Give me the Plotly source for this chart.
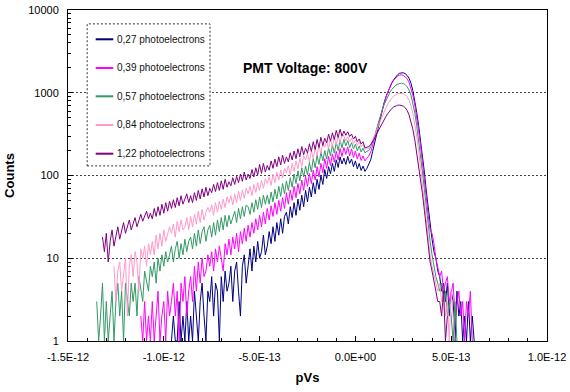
import plotly.graph_objects as go

# bin centres in units of 1E-12 pVs
BINS_E12 = [
    -1.36, -1.35, -1.34, -1.33, -1.32, -1.31, -1.30, -1.29, -1.28, -1.27,
    -1.26, -1.25, -1.24, -1.23, -1.22, -1.21, -1.20, -1.19, -1.18, -1.17,
    -1.16, -1.15, -1.14, -1.13, -1.12, -1.11, -1.10, -1.09, -1.08, -1.07,
    -1.06, -1.05, -1.04, -1.03, -1.02, -1.01, -1.00, -0.99, -0.98, -0.97,
    -0.96, -0.95, -0.94, -0.93, -0.92, -0.91, -0.90, -0.89, -0.88, -0.87,
    -0.86, -0.85, -0.84, -0.83, -0.82, -0.81, -0.80, -0.79, -0.78, -0.77,
    -0.76, -0.75, -0.74, -0.73, -0.72, -0.71, -0.70, -0.69, -0.68, -0.67,
    -0.66, -0.65, -0.64, -0.63, -0.62, -0.61, -0.60, -0.59, -0.58, -0.57,
    -0.56, -0.55, -0.54, -0.53, -0.52, -0.51, -0.50, -0.49, -0.48, -0.47,
    -0.46, -0.45, -0.44, -0.43, -0.42, -0.41, -0.40, -0.39, -0.38, -0.37,
    -0.36, -0.35, -0.34, -0.33, -0.32, -0.31, -0.30, -0.29, -0.28, -0.27,
    -0.26, -0.25, -0.24, -0.23, -0.22, -0.21, -0.20, -0.19, -0.18, -0.17,
    -0.16, -0.15, -0.14, -0.13, -0.12, -0.11, -0.10, -0.09, -0.08, -0.07,
    -0.06, -0.05, -0.04, -0.03, -0.02, -0.01, 0.00, 0.01, 0.02, 0.03,
    0.04, 0.05, 0.06, 0.07, 0.08, 0.09, 0.10, 0.11, 0.12, 0.13,
    0.14, 0.15, 0.16, 0.17, 0.18, 0.19, 0.20, 0.21, 0.22, 0.23,
    0.24, 0.25, 0.26, 0.27, 0.28, 0.29, 0.30, 0.31, 0.32, 0.33,
    0.34, 0.35, 0.36, 0.37, 0.38, 0.39, 0.40, 0.41, 0.42, 0.43,
    0.44, 0.45, 0.46, 0.47, 0.48, 0.49, 0.50, 0.51, 0.52, 0.53,
    0.54, 0.55, 0.56, 0.57, 0.58, 0.59, 0.60, 0.61, 0.62,
]

N = None

PE_027 = [
    N, N, N, N, N, N, N, N, N, N,
    N, N, N, N, N, N, N, N, N, N,
    N, N, N, N, N, N, N, N, N, N,
    N, N, N, N, N, N, N, N, N, N,
    1, 2, 1, 1, 3, 1, 2, 1, 3, 1,
    2, 1, 4, 2, 1, 3, 5, 2, 1, 4,
    3, 6, 2, 5, 4, 1, 6, 3, 7, 4,
    5, 8, 3, 7, 9, 4, 2, 8, 11, 5,
    8, 13, 7, 14, 9, 16, 10, 12, 19, 11,
    14, 21, 15, 24, 16, 27, 19, 30, 20, 32,
    36, 26, 42, 31, 47, 33, 52, 38, 58, 42,
    66, 48, 72, 55, 82, 60, 90, 68, 100, 78,
    118, 92, 128, 105, 140, 112, 155, 125, 168, 138,
    162, 136, 170, 140, 158, 128, 150, 120, 140, 115,
    130, 112, 122, 135, 155, 195, 245, 310, 400, 510,
    630, 760, 900, 1040, 1180, 1320, 1440, 1560, 1650, 1720,
    1750, 1745, 1700, 1620, 1500, 1300, 1060, 800, 580, 400,
    270, 180, 110, 65, 40, 25, 17, 12, 10, 7,
    6, 4, 5, 3, 5, 2, 4, 3, 1, 4,
    2, 3, 1, 2, 1, 3, 1, 2, 1,
]

PE_039 = [
    N, N, N, N, N, N, N, N, N, N,
    N, N, N, N, N, N, N, N, N, N,
    N, N, N, N, 2, 1, 3, 1, 2, 1,
    3, 1, 2, 4, 1, 2, 3, 1, 4, 2,
    3, 5, 2, 4, 1, 5, 3, 6, 2, 4,
    6, 3, 8, 4, 9, 5, 10, 6, 7, 11,
    8, 12, 7, 13, 9, 14, 10, 7, 15, 11,
    17, 11, 18, 13, 20, 12, 21, 15, 23, 16,
    25, 18, 27, 20, 30, 22, 33, 24, 36, 26,
    40, 29, 43, 32, 47, 34, 50, 37, 54, 40,
    62, 45, 67, 50, 74, 54, 80, 60, 88, 66,
    98, 74, 106, 80, 116, 88, 128, 96, 140, 108,
    160, 122, 170, 132, 182, 145, 196, 155, 212, 170,
    218, 180, 222, 172, 210, 165, 198, 158, 186, 152,
    172, 150, 162, 172, 192, 228, 278, 340, 420, 515,
    625, 755, 890, 1030, 1170, 1300, 1420, 1520, 1590, 1630,
    1645, 1625, 1570, 1480, 1340, 1150, 930, 710, 510, 350,
    230, 150, 90, 55, 33, 22, 20, 15, 10, 8,
    6, 7, 4, 5, 6, 3, 4, 5, 2, 3,
    4, 2, 3, 1, 3, 2, 4, 1, N,
]

PE_057 = [
    N, 3, 1, 2, 5, 1, 3, 1, 2, 4,
    1, 3, 5, 2, 4, 1, 5, 3, 2, 5,
    3, 5, 2, 6, 4, 3, 7, 5, 4, 8,
    6, 9, 5, 10, 7, 11, 8, 12, 9, 11,
    14, 9, 13, 16, 10, 15, 11, 17, 12, 16,
    18, 13, 20, 14, 22, 15, 21, 24, 16, 22,
    25, 18, 27, 19, 29, 21, 31, 22, 33, 24,
    33, 26, 31, 37, 27, 40, 30, 42, 32, 44,
    42, 34, 47, 36, 51, 39, 55, 41, 58, 45,
    58, 45, 63, 48, 68, 52, 74, 56, 80, 60,
    86, 66, 94, 72, 104, 80, 114, 86, 124, 96,
    130, 102, 144, 110, 160, 124, 176, 136, 192, 150,
    200, 158, 216, 172, 236, 186, 252, 200, 270, 216,
    274, 228, 264, 218, 250, 210, 240, 198, 228, 192,
    214, 188, 196, 200, 222, 252, 300, 362, 440, 530,
    620, 720, 820, 920, 1010, 1100, 1170, 1230, 1270, 1295,
    1305, 1290, 1250, 1180, 1080, 940, 760, 570, 400, 270,
    175, 110, 68, 40, 25, 16, 11, 8, 6, 5,
    4, 5, 3, 4, 2, 3, 2, 1, 3, 1,
    N, N, N, N, N, N, N, N, N,
]

PE_084 = [
    N, N, N, N, N, N, N, N, N, N,
    8, 3, 7, 9, 4, 6, 10, 2, 8, 11,
    6, 12, 9, 4, 13, 10, 14, 8, 15, 11,
    16, 11, 19, 13, 20, 14, 22, 16, 19, 24,
    20, 26, 18, 28, 21, 29, 22, 24, 31, 22,
    32, 24, 34, 26, 37, 27, 39, 29, 36, 41,
    36, 44, 33, 47, 36, 49, 39, 52, 41, 55,
    47, 57, 44, 60, 47, 64, 50, 67, 53, 70,
    60, 74, 57, 78, 62, 82, 66, 87, 70, 92,
    80, 97, 76, 104, 82, 110, 88, 116, 93, 122,
    108, 132, 102, 140, 112, 150, 120, 162, 128, 174,
    154, 188, 146, 200, 160, 216, 172, 230, 184, 246,
    220, 262, 210, 276, 224, 292, 236, 304, 248, 318,
    300, 262, 296, 256, 282, 244, 270, 232, 256, 222,
    238, 206, 212, 214, 236, 265, 300, 345, 400, 460,
    525, 595, 665, 735, 800, 860, 910, 945, 970, 983,
    985, 975, 945, 890, 810, 700, 560, 420, 300, 200,
    125, 78, 48, 28, 17, 11, 8, 6, 5, 4,
    5, 3, 4, 2, 3, 1, 4, 2, 1, N,
    N, N, N, N, N, N, N, N, N,
]

PE_122 = [
    N, N, N, N, 18, 12, 20, 9, 16, 22,
    14, 19, 24, 17, 21, 27, 20, 25, 29, 22,
    27, 31, 24, 29, 34, 28, 32, 37, 30, 35,
    30, 40, 32, 42, 33, 45, 35, 47, 37, 49,
    40, 51, 41, 54, 43, 57, 45, 52, 60, 47,
    57, 47, 62, 50, 66, 52, 69, 55, 72, 57,
    70, 62, 78, 64, 82, 66, 86, 68, 90, 72,
    84, 75, 94, 78, 98, 82, 104, 85, 110, 88,
    104, 92, 118, 96, 124, 102, 136, 106, 140, 110,
    132, 116, 150, 122, 158, 128, 168, 134, 176, 140,
    168, 146, 188, 154, 198, 160, 210, 168, 224, 178,
    214, 186, 242, 196, 256, 206, 272, 218, 290, 230,
    282, 248, 316, 260, 328, 272, 350, 288, 362, 298,
    345, 306, 338, 296, 316, 276, 298, 256, 276, 240,
    256, 216, 222, 224, 236, 256, 282, 315, 350, 390,
    430, 475, 520, 565, 610, 645, 675, 695, 705, 710,
    705, 690, 660, 610, 540, 450, 360, 270, 185, 130,
    95, 60, 38, 22, 14, 9, 7, 5, 4, 3,
    3, 2, 4, 1, 2, N, N, N, N, N,
    N, N, N, N, N, N, N, N, N,
]

SERIES = [PE_027, PE_039, PE_057, PE_084, PE_122]
NAMES = [
    "0,27 photoelectrons",
    "0,39 photoelectrons",
    "0,57 photoelectrons",
    "0,84 photoelectrons",
    "1,22 photoelectrons",
]
COLORS = ["#000080", "#FF00FF", "#339966", "#FF99CC", "#800080"]

X_TICKS = [-1.5e-12, -1.0e-12, -0.5e-12, 0.0, 0.5e-12, 1.0e-12]
X_TICKTEXT = ["-1.5E-12", "-1.0E-12", "-5.0E-13", "0.0E+00", "5.0E-13", "1.0E-12"]
Y_TICKS = [1, 10, 100, 1000, 10000]
Y_TICKTEXT = ["1", "10", "100", "1000", "10000"]

x_vals = [b * 1e-12 for b in BINS_E12]

fig = go.Figure()
for name, ys, col in zip(NAMES, SERIES, COLORS):
    fig.add_trace(go.Scatter(
        x=x_vals, y=ys, name=name, mode="lines",
        line=dict(color=col, width=1),
        connectgaps=False,
    ))

# legend box drawn like the original (dashed frame, short line samples)
shapes = [dict(
    type="rect", xref="paper", yref="paper",
    x0=0.040, x1=0.2965, y0=0.529, y1=0.958,
    line=dict(color="#333333", width=1, dash="2px,2px"),
    fillcolor="white", layer="above",
)]
annotations = []
row_y = [0.9115, 0.8248, 0.7393, 0.6526, 0.5659]
for name, col, yy in zip(NAMES, COLORS, row_y):
    shapes.append(dict(
        type="line", xref="paper", yref="paper",
        x0=0.0578, x1=0.0946, y0=yy, y1=yy,
        line=dict(color=col, width=2), layer="above",
    ))
    annotations.append(dict(
        text=name, xref="paper", yref="paper", x=0.0985, y=yy,
        xanchor="left", yanchor="middle", showarrow=False,
        font=dict(size=10, color="#111111"),
    ))

annotations.append(dict(
    text="<b>PMT Voltage: 800V</b>", xref="paper", yref="paper",
    x=0.3612, y=0.824, xanchor="left", yanchor="middle", showarrow=False,
    font=dict(size=14, color="black"),
))

fig.update_layout(
    width=570, height=392,
    margin=dict(l=68, r=23, t=10, b=51),
    paper_bgcolor="white", plot_bgcolor="white",
    font=dict(family="Arial, 'Liberation Sans', sans-serif", size=11, color="black"),
    showlegend=False,
    shapes=shapes,
    annotations=annotations,
)

fig.update_xaxes(
    range=[-1.5e-12, 1.0e-12],
    tickmode="array", tickvals=X_TICKS, ticktext=X_TICKTEXT,
    ticks="inside", ticklen=5, tickcolor="black",
    ticklabelstandoff=6,
    showline=True, linecolor="black", linewidth=1, mirror=True,
    showgrid=False, zeroline=False,
    minor=dict(dtick=1e-13, tick0=0, ticks="inside", ticklen=3,
               tickcolor="black", showgrid=False),
    title=dict(text="<b>pVs</b>", font=dict(size=13), standoff=10),
    automargin=False,
)

fig.update_yaxes(
    type="log", range=[0, 4],
    tickmode="array", tickvals=Y_TICKS, ticktext=Y_TICKTEXT,
    ticks="inside", ticklen=5, tickcolor="black",
    ticklabelstandoff=6,
    showline=True, linecolor="black", linewidth=1, mirror=True,
    showgrid=True, gridcolor="#444444", gridwidth=1, griddash="2px,2px",
    zeroline=False,
    minor=dict(dtick="D1", ticks="inside", ticklen=3,
               tickcolor="black", showgrid=False),
    title=dict(text="<b>Counts</b>", font=dict(size=13), standoff=10),
    automargin=False,
)

# drop the page's default 8px body margin so the figure fills the window
fig.write_html(
    "out.html",
    config={"displayModeBar": False},
    post_script="document.body.style.margin='0px';",
)
